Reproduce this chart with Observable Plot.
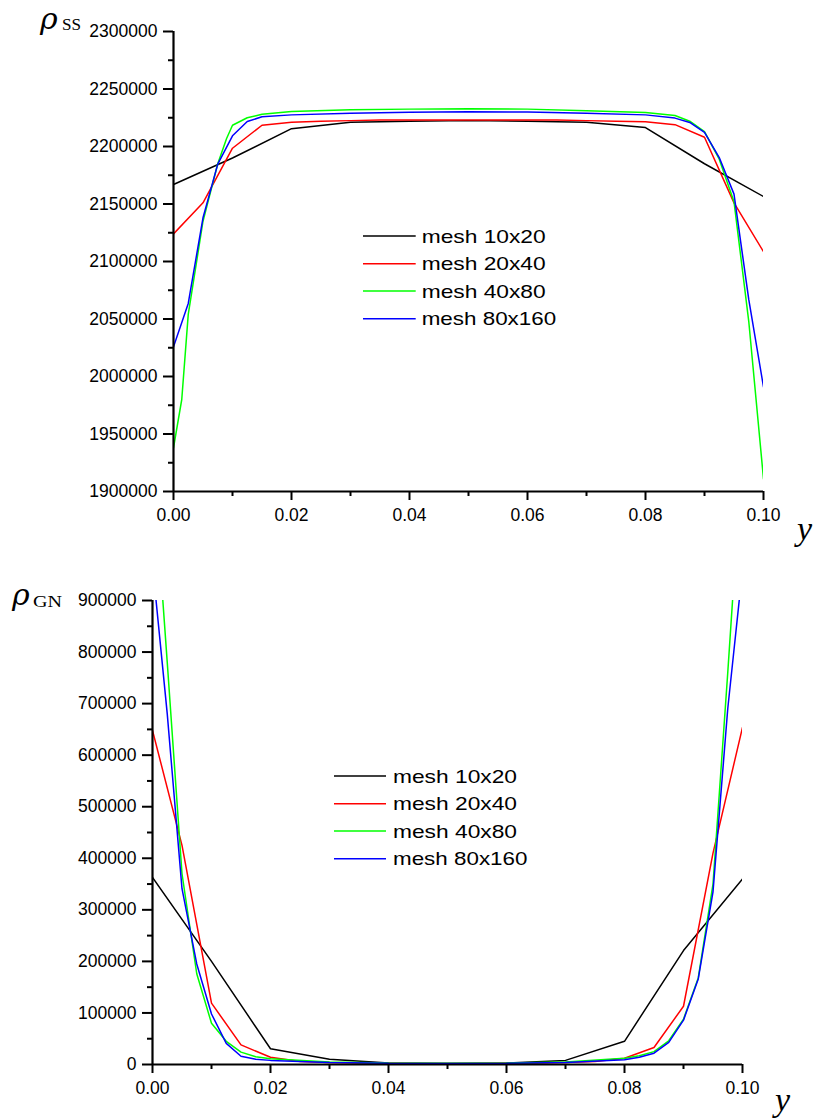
<!DOCTYPE html>
<html><head><meta charset="utf-8">
<script src="https://cdn.jsdelivr.net/npm/d3@7"></script>
<script src="https://cdn.jsdelivr.net/npm/@observablehq/plot@0.6"></script>
<style>
body{margin:0;background:#fff;}
#wrap{position:relative;width:813px;height:1120px;overflow:hidden;background:#fff;}
#wrap > *{position:absolute;}
</style></head><body><div id="wrap"></div>
<script>
// ---------- data ----------
const seriesNames = ["mesh 10x20", "mesh 20x40", "mesh 40x80", "mesh 80x160"];
const seriesColors = ["#000000", "#ff0000", "#00ff00", "#0000ff"];

// top chart: rho_SS
const ssX1 = [0, 0.01, 0.02, 0.03, 0.04, 0.05, 0.06, 0.07, 0.08, 0.09, 0.1];
const ssV1 = [2167000, 2190000, 2215500, 2221000, 2222000, 2222500, 2222000, 2221000, 2216500, 2185000, 2156500];
const ssX2 = [0, 0.005, 0.01, 0.015, 0.02, 0.025, 0.03, 0.035, 0.04, 0.045, 0.05, 0.055, 0.06, 0.065, 0.07, 0.075, 0.08, 0.085, 0.09, 0.095, 0.1];
const ssV2 = [2124000, 2151000, 2198500, 2218500, 2221000, 2222000, 2222500, 2223000, 2223000, 2223000, 2223000, 2223000, 2223000, 2223000, 2222500, 2222000, 2221500, 2219000, 2208000, 2151000, 2108500];
const ssX3 = [0, 0.0014, 0.0025, 0.005, 0.0075, 0.009, 0.01, 0.0125, 0.015, 0.02, 0.03, 0.04, 0.05, 0.06, 0.07, 0.08, 0.085, 0.0875, 0.09, 0.0925, 0.095, 0.0975, 0.1];
const ssV3 = [1938000, 1980000, 2054000, 2135000, 2185000, 2207000, 2218500, 2225000, 2228000, 2230500, 2232000, 2232500, 2232800, 2232500, 2231000, 2229500, 2227000, 2222000, 2213000, 2189000, 2152000, 2048000, 1911000];
const ssX4 = [0, 0.0025, 0.005, 0.0075, 0.01, 0.0125, 0.015, 0.02, 0.03, 0.04, 0.05, 0.06, 0.07, 0.08, 0.085, 0.0875, 0.09, 0.0925, 0.095, 0.0975, 0.1];
const ssV4 = [2025800, 2063500, 2138000, 2184700, 2209300, 2221700, 2225800, 2227500, 2229000, 2229800, 2230200, 2230000, 2229000, 2227500, 2224700, 2220900, 2212200, 2190400, 2158600, 2067000, 1991000];

// bottom chart: rho_GN
const gnX1 = [0, 0.01, 0.02, 0.03, 0.04, 0.05, 0.06, 0.07, 0.08, 0.09, 0.1];
const gnV1 = [363000, 200000, 30500, 10000, 3000, 2000, 3000, 8000, 45000, 221000, 360000];
const gnX2 = [0, 0.005, 0.01, 0.015, 0.02, 0.025, 0.03, 0.035, 0.04, 0.045, 0.05, 0.055, 0.06, 0.065, 0.07, 0.075, 0.08, 0.085, 0.09, 0.095, 0.1];
const gnV2 = [648000, 425000, 119000, 38000, 14000, 6000, 4000, 3000, 2500, 2000, 2000, 2000, 2500, 3000, 4000, 6000, 12000, 33000, 113000, 410000, 654000];
const gnX3 = [0, 0.0025, 0.005, 0.0075, 0.01, 0.0125, 0.015, 0.0175, 0.02, 0.03, 0.04, 0.05, 0.06, 0.07, 0.08, 0.0825, 0.085, 0.0875, 0.09, 0.0925, 0.095, 0.0975, 0.1];
const gnV3 = [1180000, 780000, 370000, 176000, 80000, 45000, 24000, 15000, 11000, 5000, 3000, 2500, 3000, 5000, 12000, 17000, 25000, 46000, 88000, 168000, 350000, 760000, 1190000];
const gnX4 = [0, 0.0025, 0.005, 0.0075, 0.01, 0.0125, 0.015, 0.0175, 0.02, 0.03, 0.04, 0.05, 0.06, 0.07, 0.08, 0.0825, 0.085, 0.0875, 0.09, 0.0925, 0.095, 0.0975, 0.1];
const gnV4 = [970000, 680000, 341000, 195000, 98000, 41000, 16000, 10000, 8000, 4000, 2500, 2000, 2500, 4000, 9000, 14000, 22000, 43000, 86000, 166000, 335000, 690000, 960000];

// ticks
const xMajor = [0, 0.02, 0.04, 0.06, 0.08, 0.1];
const xMinor = [0.01, 0.03, 0.05, 0.07, 0.09];
const ssMajor = [1900000, 1950000, 2000000, 2050000, 2100000, 2150000, 2200000, 2250000, 2300000];
const ssMinor = [1925000, 1975000, 2025000, 2075000, 2125000, 2175000, 2225000, 2275000];
const gnMajor = [0, 100000, 200000, 300000, 400000, 500000, 600000, 700000, 800000, 900000];
const gnMinor = [50000, 150000, 250000, 350000, 450000, 550000, 650000, 750000, 850000];

// ---------- build ----------
function rows(xs, vs) {
  const out = [];
  xs.forEach((xArr, i) => xArr.forEach((x, j) => out.push({name: seriesNames[i], x, v: vs[i][j]})));
  return out;
}
const ssRows = rows([ssX1, ssX2, ssX3, ssX4], [ssV1, ssV2, ssV3, ssV4]);
const gnRows = rows([gnX1, gnX2, gnX3, gnX4], [gnV1, gnV2, gnV3, gnV4]);

function makePlot(data, ydomain, yMajor, yMinor, m) {
  return Plot.plot({
    width: 813, height: m.height,
    marginLeft: m.left, marginRight: m.right, marginTop: m.top, marginBottom: m.bottom,
    x: {domain: [0, 0.1]},
    y: {domain: ydomain},
    color: {domain: seriesNames, range: seriesColors},
    style: {fontFamily: "'Liberation Sans', Arial, sans-serif", fontSize: "17.5px", color: "#000", background: "transparent", overflow: "visible"},
    marks: [
      Plot.axisY(yMinor, {tickSize: 5, strokeWidth: 2, tickFormat: () => "", label: null}),
      Plot.axisY(yMajor, {tickSize: 10, tickPadding: 6, strokeWidth: 2, tickFormat: d => String(d), label: null}),
      Plot.axisX(xMinor, {tickSize: 5, strokeWidth: 2, tickFormat: () => "", label: null}),
      Plot.axisX(xMajor, {tickSize: 9, tickPadding: 8, strokeWidth: 2, tickFormat: d => d.toFixed(2), label: null}),
      Plot.line(data, {x: "x", y: "v", z: "name", stroke: "name", strokeWidth: 1.5, strokeLinejoin: "miter", clip: true}),
      Plot.ruleX([0], {strokeWidth: 2.2}),
      Plot.ruleY([ydomain[0]], {strokeWidth: 2.2})
    ]
  });
}

const wrap = document.getElementById("wrap");
const top1 = makePlot(ssRows, [1900000, 2300000], ssMajor, ssMinor, {height: 540, left: 173, right: 50, top: 31, bottom: 49});
top1.style.left = "0px"; top1.style.top = "0px";
wrap.appendChild(top1);
const bot = makePlot(gnRows, [0, 900000], gnMajor, gnMinor, {height: 580, left: 152, right: 71, top: 60, bottom: 56});
bot.style.left = "0px"; bot.style.top = "540px";
wrap.appendChild(bot);

// overlay: axis titles and legends
const svg = d3.create("svg").attr("width", 813).attr("height", 1120)
  .style("left", "0px").style("top", "0px").style("pointer-events", "none");
const rhoFont = "'DejaVu Serif', 'Liberation Serif', serif";
const romanFont = "'Liberation Serif', 'DejaVu Serif', serif";
function mathLabel(x, y, sym, size, sub, subX, subY, subSize, subLen) {
  svg.append("text").attr("x", x).attr("y", y).attr("font-family", rhoFont)
    .attr("font-style", "italic").attr("font-size", size).attr("fill", "#000").text(sym);
  if (sub) svg.append("text").attr("x", subX).attr("y", subY).attr("font-family", romanFont)
    .attr("font-size", subSize).attr("fill", "#000")
    .attr("textLength", subLen).attr("lengthAdjust", "spacingAndGlyphs").text(sub);
}
mathLabel(40, 28.5, "ρ", 30, "SS", 62, 29.5, 16.5, 19);
mathLabel(12, 605, "ρ", 30, "GN", 33, 606.7, 17.5, 29);
svg.append("text").attr("x", 797).attr("y", 540).attr("font-family", romanFont)
  .attr("font-style", "italic").attr("font-size", 34).text("y");
svg.append("text").attr("x", 775).attr("y", 1111).attr("font-family", romanFont)
  .attr("font-style", "italic").attr("font-size", 34).text("y");

const legendWidths = [124, 124, 124, 134.5];
function legend(x0, x1, tx, ys) {
  seriesNames.forEach((n, i) => {
    svg.append("line").attr("x1", x0).attr("x2", x1).attr("y1", ys[i]).attr("y2", ys[i])
      .attr("stroke", seriesColors[i]).attr("stroke-width", 1.6);
    svg.append("text").attr("x", tx).attr("y", ys[i] + 6.7)
      .attr("font-family", "'Liberation Sans', Arial, sans-serif").attr("font-size", 19)
      .attr("textLength", legendWidths[i]).attr("lengthAdjust", "spacingAndGlyphs").text(n);
  });
}
legend(363, 415.7, 421.7, [236, 263.7, 291, 318.7]);
legend(334, 386, 393, [776, 803.7, 831, 858.7]);
wrap.appendChild(svg.node());
</script></body></html>
